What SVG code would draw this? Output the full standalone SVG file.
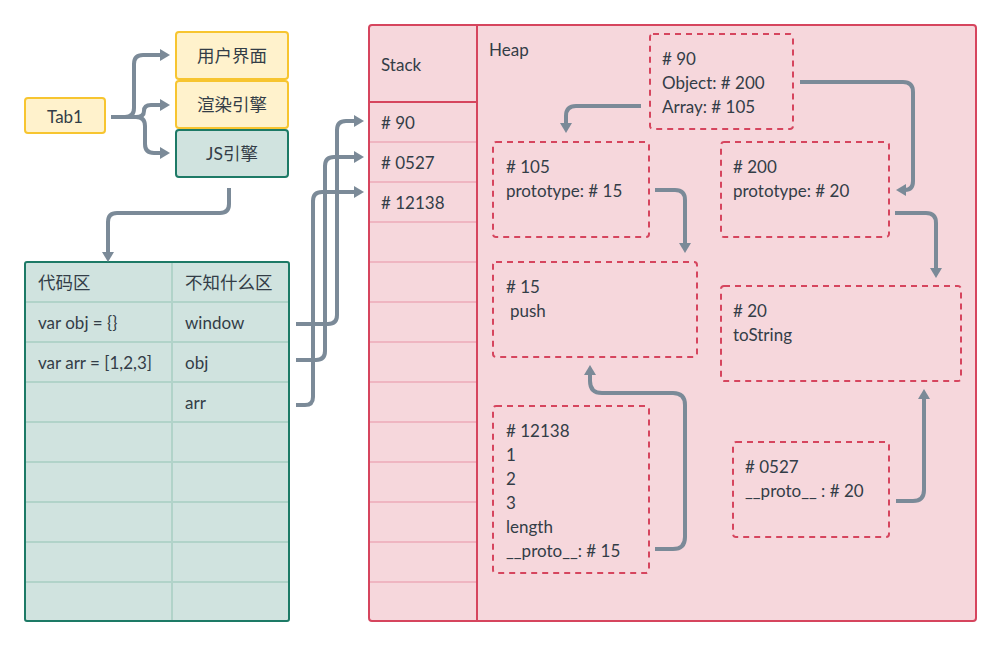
<svg xmlns="http://www.w3.org/2000/svg" width="1002" height="647" viewBox="0 0 1002 647">
<defs>
<marker id="ah" viewBox="0 0 10 12" markerWidth="10" markerHeight="12" refX="1" refY="6" orient="auto" markerUnits="userSpaceOnUse">
<path d="M0,0 L10,6 L0,12 z" fill="#7b8a98"/>
</marker>
<style>
text{font-family:Lato,"Noto Sans","Noto Sans CJK SC",sans-serif;font-size:17px;fill:#333d47;dominant-baseline:central}
.cjk{font-size:17.5px}
.c{text-anchor:middle}
.yel{fill:#fff2cc;stroke:#f7c530;stroke-width:2}
.teal{fill:#d0e3df;stroke:#1d7a66;stroke-width:2}
.tl{stroke:#b1d3c9;stroke-width:2}
.pk{fill:#f6d7dc;stroke:#d6455e;stroke-width:2}
.pl{stroke:#efb5c1;stroke-width:2}
.dash{fill:none;stroke:#d6455e;stroke-width:2;stroke-dasharray:6 5}
.cn{fill:none;stroke:#7b8a98;stroke-width:4;stroke-linejoin:round}
.ar{marker-end:url(#ah)}
</style>
</defs>

<g id="tab1"><rect class="yel" x="25" y="98" width="80" height="35" rx="3"/><text class="c" x="65" y="116">Tab1</text></g>
<g id="ui"><rect class="yel" x="176" y="32" width="112" height="47" rx="3"/><text class="c cjk" x="232" y="55">用户界面</text></g>
<g id="render"><rect class="yel" x="176" y="81" width="112" height="47" rx="3"/><text class="c cjk" x="232" y="104">渲染引擎</text></g>
<g id="js"><rect class="teal" x="176" y="130" width="112" height="47" rx="3"/><text class="c cjk" x="232" y="153">JS引擎</text></g>

<g id="table">
<rect class="teal" x="25" y="262" width="264" height="359" rx="2"/>
<g class="tl">
<line x1="26" y1="302" x2="288" y2="302"/>
<line x1="26" y1="342" x2="288" y2="342"/>
<line x1="26" y1="382" x2="288" y2="382"/>
<line x1="26" y1="422" x2="288" y2="422"/>
<line x1="26" y1="462" x2="288" y2="462"/>
<line x1="26" y1="502" x2="288" y2="502"/>
<line x1="26" y1="542" x2="288" y2="542"/>
<line x1="26" y1="582" x2="288" y2="582"/>
<line x1="172" y1="263" x2="172" y2="620"/>
</g>
<text class="cjk" x="38" y="282">代码区</text><text class="cjk" x="185" y="282">不知什么区</text>
<text x="38" y="322">var obj = {}</text><text x="185" y="322">window</text>
<text x="38" y="362">var arr = [1,2,3]</text><text x="185" y="362">obj</text>
<text x="185" y="402">arr</text>
</g>

<g id="memory">
<rect class="pk" x="369" y="25" width="607" height="596" rx="3"/>
<line x1="477" y1="25" x2="477" y2="621" stroke="#d6455e" stroke-width="2"/>
<line x1="369" y1="102" x2="477" y2="102" stroke="#d6455e" stroke-width="2"/>
<g class="pl">
<line x1="370" y1="142" x2="476" y2="142"/>
<line x1="370" y1="182" x2="476" y2="182"/>
<line x1="370" y1="222" x2="476" y2="222"/>
<line x1="370" y1="262" x2="476" y2="262"/>
<line x1="370" y1="302" x2="476" y2="302"/>
<line x1="370" y1="342" x2="476" y2="342"/>
<line x1="370" y1="382" x2="476" y2="382"/>
<line x1="370" y1="422" x2="476" y2="422"/>
<line x1="370" y1="462" x2="476" y2="462"/>
<line x1="370" y1="502" x2="476" y2="502"/>
<line x1="370" y1="542" x2="476" y2="542"/>
<line x1="370" y1="582" x2="476" y2="582"/>
</g>
<text x="381" y="64">Stack</text>
<text x="381" y="122"># 90</text>
<text x="381" y="162"># 0527</text>
<text x="381" y="202"># 12138</text>
<text x="489" y="49">Heap</text>
</g>

<g id="h90"><rect class="dash" x="650" y="34" width="143" height="95" rx="3"/><text x="662" y="58"># 90</text><text x="662" y="82">Object: # 200</text><text x="662" y="106">Array: # 105</text></g>
<g id="h105"><rect class="dash" x="493" y="142" width="156" height="95" rx="3"/><text x="506" y="166"># 105</text><text x="506" y="190">prototype: # 15</text></g>
<g id="h200"><rect class="dash" x="721" y="142" width="168" height="95" rx="3"/><text x="733" y="166"># 200</text><text x="733" y="190">prototype: # 20</text></g>
<g id="h15"><rect class="dash" x="493" y="262" width="204" height="95" rx="3"/><text x="506" y="286"># 15</text><text x="510" y="310">push</text></g>
<g id="h20"><rect class="dash" x="721" y="286" width="240" height="95" rx="3"/><text x="733" y="310"># 20</text><text x="733" y="334">toString</text></g>
<g id="h12138"><rect class="dash" x="493" y="406" width="156" height="167" rx="3"/><text x="506" y="430"># 12138</text><text x="506" y="454">1</text><text x="506" y="478">2</text><text x="506" y="502">3</text><text x="506" y="526">length</text><text x="506" y="550">__proto__: # 15</text></g>
<g id="h0527"><rect class="dash" x="733" y="442" width="156" height="95" rx="3"/><text x="745" y="466"># 0527</text><text x="745" y="490">__proto__ : # 20</text></g>

<g id="connectors">
<path class="cn ar" d="M111,117 H125 Q134,117 134,108 V64 Q134,55 143,55 H161"/>
<path class="cn ar" d="M111,117 H136 Q144,117 144,111 Q144,105 151,105 H161"/>
<path class="cn ar" d="M111,117 H136 Q145,117 145,126 V144 Q145,153 154,153 H161"/>
<path class="cn ar" d="M229,188 V204 Q229,213 220,213 H117 Q108,213 108,222 V253"/>
<path class="cn ar" d="M296,324 H328 Q337,324 337,315 V130 Q337,121 346,121 H355"/>
<path class="cn ar" d="M296,360 H316 Q325,360 325,351 V166 Q325,157 334,157 H355"/>
<path class="cn ar" d="M296,405 H305 Q313,405 313,397 V201 Q313,192 322,192 H355"/>
<path class="cn ar" d="M641,106 H576 Q566,106 566,116 V124"/>
<path class="cn ar" d="M800,82 H903 Q913,82 913,92 V181 Q913,190 905,190"/>
<path class="cn ar" d="M655,190 H675 Q685,190 685,200 V244"/>
<path class="cn ar" d="M895,213 H926 Q936,213 936,223 V269"/>
<path class="cn ar" d="M655,549 H673 Q685,549 685,537 V405 Q685,393 673,393 H602 Q590,393 590,381 V374"/>
<path class="cn ar" d="M896,501 H913 Q924,501 924,490 V398"/>
</g>
</svg>
